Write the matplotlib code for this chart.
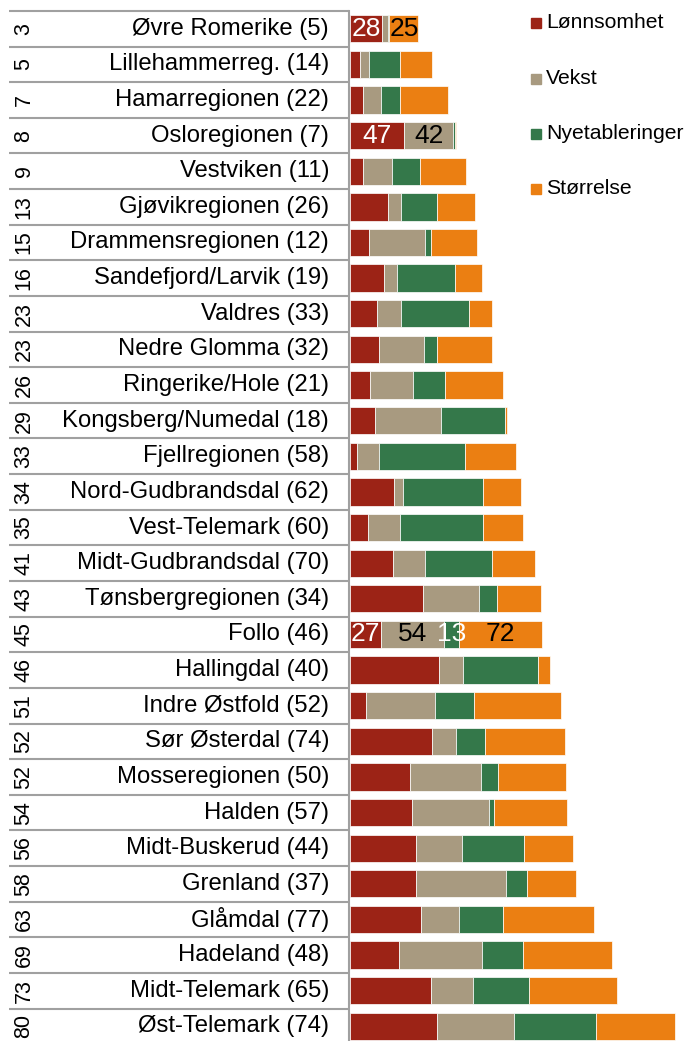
import matplotlib
matplotlib.use("Agg")
import matplotlib.pyplot as plt
from matplotlib.patches import Rectangle
import numpy as np

plt.rcParams['font.family'] = ['Liberation Sans', 'DejaVu Sans']

regions = ["Øvre Romerike (5)", "Lillehammerreg. (14)", "Hamarregionen (22)",
           "Osloregionen (7)", "Vestviken (11)", "Gjøvikregionen (26)",
           "Drammensregionen (12)", "Sandefjord/Larvik (19)", "Valdres (33)",
           "Nedre Glomma (32)", "Ringerike/Hole (21)", "Kongsberg/Numedal (18)",
           "Fjellregionen (58)", "Nord-Gudbrandsdal (62)", "Vest-Telemark (60)",
           "Midt-Gudbrandsdal (70)", "Tønsbergregionen (34)", "Follo (46)",
           "Hallingdal (40)", "Indre Østfold (52)", "Sør Østerdal (74)",
           "Mosseregionen (50)", "Halden (57)", "Midt-Buskerud (44)",
           "Grenland (37)", "Glåmdal (77)", "Hadeland (48)", "Midt-Telemark (65)",
           "Øst-Telemark (74)"]
ranks = [3, 5, 7, 8, 9, 13, 15, 16, 23, 23, 26, 29, 33, 34, 35, 41, 43, 45, 46,
         51, 52, 52, 54, 56, 58, 63, 69, 73, 80]

lonnsomhet = [28, 9, 11.5, 47, 11.5, 33, 16, 29, 23, 25, 17, 22, 6, 38, 15.5, 37,
              63, 27, 77, 13.5, 70.5, 52, 53.5, 57, 57, 61.5, 42, 70, 75]
vekst = [4.5, 7, 15, 42, 25, 11, 49, 12, 21, 39, 37, 57, 19, 8, 27.5, 28, 48, 54,
         21, 59.5, 21, 61, 66.5, 40, 78, 32.5, 72, 36, 67]
nyetableringer = [1.5, 27, 17, 1.5, 24, 31, 5, 50, 59, 11, 28, 55, 74, 69, 72, 58,
                  16, 13, 64, 34, 25.5, 15, 4.5, 53, 18, 38.5, 35, 49, 70.5]
storrelse = [25, 28, 41, 1, 40, 33, 40, 23, 20, 48, 50, 2, 44, 33, 34, 37, 38, 72,
             11, 75.5, 69, 58.5, 63, 43, 42.5, 78.5, 77, 76, 68]

series_names = ["Lønnsomhet", "Vekst", "Nyetableringer", "Størrelse"]
series_colors = ["#9C2316", "#A89A80", "#34784A", "#EB7F12"]
label_colors = ["white", "black", "white", "black"]
# regions whose segments carry value labels
labelled = {"Øvre Romerike (5)": [0, 3], "Osloregionen (7)": [0, 1],
            "Follo (46)": [0, 1, 2, 3]}

W, H = 685, 1041
fig = plt.figure(figsize=(W / 100, H / 100), dpi=100)

n = len(regions)
row_h = 35.63
top_px = 10.9
y_bottom_lim = -0.5 + (H - top_px) / row_h
px_per_unit = 1.158
x0 = 350

ax = fig.add_axes([x0 / W, 0, (W - x0) / W, 1 - top_px / H])
ax.set_xlim(0, (W - x0) / px_per_unit)
ax.set_ylim(y_bottom_lim, -0.5)
ax.axis('off')

y = np.arange(n)
left = np.zeros(n)
for vals, name, col, tcol in zip([lonnsomhet, vekst, nyetableringer, storrelse],
                                 series_names, series_colors, label_colors):
    vals = np.array(vals, dtype=float)
    bars = ax.barh(y, vals, left=left, height=0.766, color=col,
                   edgecolor='white', linewidth=0.5, label=name)
    si = series_names.index(name)
    labels = [f"{v:g}" if si in labelled.get(r, []) else ""
              for r, v in zip(regions, vals)]
    ax.bar_label(bars, labels=labels, label_type='center', color=tcol,
                 fontsize=19)
    left += vals

# category table on the left
axt = fig.add_axes([0, 0, x0 / W, 1 - top_px / H], sharey=ax)
axt.set_xlim(0, x0)
axt.set_ylim(y_bottom_lim, -0.5)
axt.axis('off')
grid_col = "#A0A0A0"
for i in range(n + 1):
    axt.plot([9, 349], [i - 0.5, i - 0.5], color=grid_col, lw=1.5,
             solid_capstyle='butt', clip_on=False)
axt.plot([349, 349], [-0.5, y_bottom_lim], color=grid_col, lw=1.5,
         clip_on=False)
for i, (r, k) in enumerate(zip(regions, ranks)):
    axt.text(329, i, r, ha='right', va='center', fontsize=17.2)
    axt.text(24, i, str(k), ha='center', va='center', rotation=90, fontsize=15.5)

# legend
leg_y = [23, 78.5, 133.5, 188.5]
for name, col, yy in zip(series_names, series_colors, leg_y):
    fig.add_artist(Rectangle((531 / W, 1 - (yy + 5) / H), 10 / W, 10 / H,
                             transform=fig.transFigure, color=col))
    fig.text(546 / W, 1 - yy / H, name, ha='left', va='center', fontsize=15.2)

fig.savefig("out.png", dpi=100)
